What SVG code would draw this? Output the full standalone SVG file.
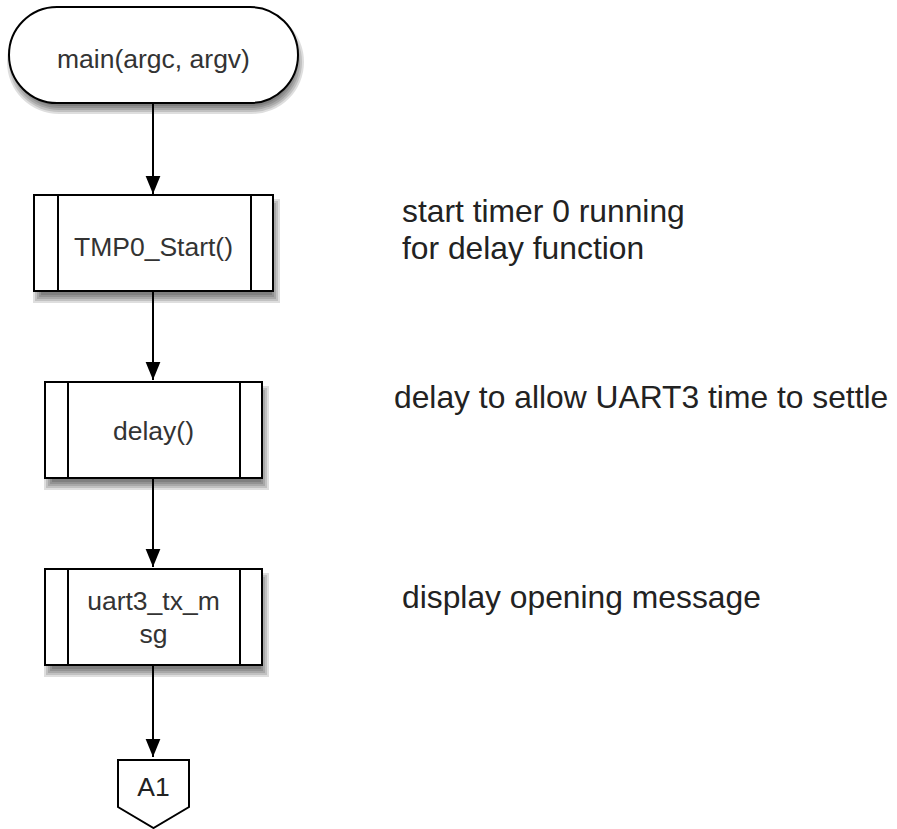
<svg xmlns="http://www.w3.org/2000/svg" width="897" height="829" viewBox="0 0 897 829">
  <defs>
    <marker id="arrow" markerWidth="18" markerHeight="22" refX="22" refY="9" orient="auto" markerUnits="userSpaceOnUse" viewBox="0 0 22 18">
      <path d="M0,0 L22,9 L0,18 Z" fill="#000"/>
    </marker>
  </defs>
  <style>
    .shape { fill: #fff; stroke: #000; stroke-width: 2; }
    .bar { stroke: #000; stroke-width: 2; fill: none; }
    .sh { fill: #000; fill-opacity: 0.13; }
    .label { font-family: "Liberation Sans", Arial, sans-serif; font-size: 26.5px; fill: #333; text-anchor: middle; }
    .note { font-family: "Liberation Sans", Arial, sans-serif; font-size: 31.8px; fill: #222; }
    .edge { stroke: #000; stroke-width: 2; fill: none; marker-end: url(#arrow); }
  </style>
  <rect width="897" height="829" fill="#fff"/>

  <g id="connectors">
    <line class="edge" x1="153" y1="103" x2="153" y2="194"/>
    <line class="edge" x1="153" y1="291" x2="153" y2="380"/>
    <line class="edge" x1="153" y1="478" x2="153" y2="567"/>
    <line class="edge" x1="153" y1="665" x2="153" y2="757"/>
  </g>

  <g id="start">
    <!-- soft drop shadow built from stacked translucent layers -->
    <g class="shadow">
      <rect class="sh" x="7" y="10" width="297" height="104" rx="52"/>
      <rect class="sh" x="9" y="12" width="293" height="100" rx="50"/>
      <rect class="sh" x="11" y="14" width="289" height="96" rx="48"/>
      <rect class="sh" x="13" y="16" width="285" height="92" rx="46"/>
      <rect class="sh" x="15" y="18" width="281" height="88" rx="44"/>
    </g>
    <rect class="shape" x="9" y="7" width="289" height="96" rx="48" ry="48"/>
    <text class="label" x="153.5" y="68">main(argc, argv)</text>
  </g>

  <g id="tmp0_start">
    <g class="shadow">
      <rect class="sh" x="33" y="199" width="247" height="104"/>
      <rect class="sh" x="35" y="201" width="243" height="100"/>
      <rect class="sh" x="37" y="203" width="239" height="96"/>
      <rect class="sh" x="39" y="205" width="235" height="92"/>
      <rect class="sh" x="41" y="207" width="231" height="88"/>
    </g>
    <rect class="shape" x="34" y="195" width="239" height="96"/>
    <line class="bar" x1="58" y1="195" x2="58" y2="291"/>
    <line class="bar" x1="251" y1="195" x2="251" y2="291"/>
    <text class="label" x="153.5" y="256">TMP0_Start()</text>
  </g>

  <g id="delay">
    <g class="shadow">
      <rect class="sh" x="44" y="386" width="225" height="104"/>
      <rect class="sh" x="46" y="388" width="221" height="100"/>
      <rect class="sh" x="48" y="390" width="217" height="96"/>
      <rect class="sh" x="50" y="392" width="213" height="92"/>
      <rect class="sh" x="52" y="394" width="209" height="88"/>
    </g>
    <rect class="shape" x="45" y="382" width="217" height="96"/>
    <line class="bar" x1="68" y1="382" x2="68" y2="478"/>
    <line class="bar" x1="240" y1="382" x2="240" y2="478"/>
    <text class="label" x="153.5" y="440">delay()</text>
  </g>

  <g id="uart3_tx_msg">
    <g class="shadow">
      <rect class="sh" x="44" y="573" width="225" height="104"/>
      <rect class="sh" x="46" y="575" width="221" height="100"/>
      <rect class="sh" x="48" y="577" width="217" height="96"/>
      <rect class="sh" x="50" y="579" width="213" height="92"/>
      <rect class="sh" x="52" y="581" width="209" height="88"/>
    </g>
    <rect class="shape" x="45" y="569" width="217" height="96"/>
    <line class="bar" x1="68" y1="569" x2="68" y2="665"/>
    <line class="bar" x1="240" y1="569" x2="240" y2="665"/>
    <text class="label" x="153.5" y="610">uart3_tx_m</text>
    <text class="label" x="153.5" y="643">sg</text>
  </g>

  <g id="a1">
    <path class="shape" d="M118,760 H189 V807 L153.5,828 L118,807 Z"/>
    <text class="label" x="153.5" y="796" style="fill:#222">A1</text>
  </g>

  <g id="notes">
    <text class="note" x="402" y="222">start timer 0 running</text>
    <text class="note" x="402" y="259">for delay function</text>
    <text class="note" x="394" y="408">delay to allow UART3 time to settle</text>
    <text class="note" x="402" y="608">display opening message</text>
  </g>
</svg>
